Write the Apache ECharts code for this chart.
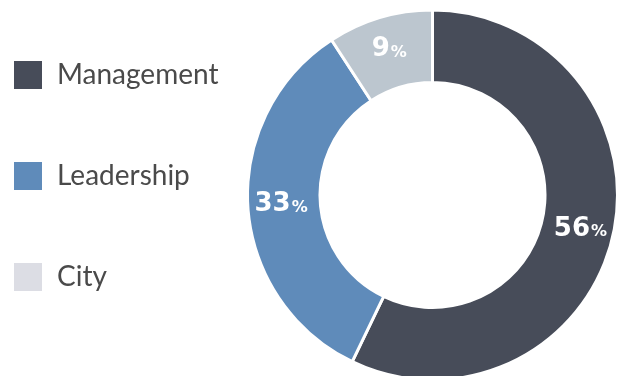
<!DOCTYPE html>
<html>
<head>
<meta charset="utf-8">
<script src="https://cdn.jsdelivr.net/npm/echarts@6/dist/echarts.min.js"></script>
<style>
  html, body { margin: 0; padding: 0; background: #ffffff; }
  #chart { width: 621px; height: 376px; }
</style>
</head>
<body>
<div id="chart"></div>
<script>
// Share of respondents by group
const categories = ['Management', 'Leadership', 'City'];
const shares = [56, 33, 9];
const sliceColors = ['#474c59', '#5f8bba', '#bcc6cf'];
const legendColors = ['#474c59', '#5f8bba', '#dcdde4'];

const chart = echarts.init(document.getElementById('chart'), null, { renderer: 'canvas' });

chart.setOption({
  animation: false,
  backgroundColor: '#ffffff',
  legend: {
    orient: 'vertical',
    left: 14,
    top: 61,
    padding: 0,
    itemWidth: 28,
    itemHeight: 28,
    itemGap: 73,
    icon: 'rect',
    selectedMode: false,
    itemStyle: { borderWidth: 0 },
    data: categories.map((name, i) => ({
      name: name,
      itemStyle: { color: legendColors[i], borderWidth: 0 }
    })),
    textStyle: {
      fontFamily: 'Lato',
      fontSize: 28,
      color: '#4a4a4a',
      lineHeight: 28,
      padding: [0, 0, 0, 10]
    }
  },
  series: [{
    type: 'pie',
    center: [432.5, 195],
    radius: [112.5, 185],
    startAngle: 90,
    clockwise: true,
    avoidLabelOverlap: false,
    itemStyle: { borderColor: '#ffffff', borderWidth: 3 },
    label: {
      show: true,
      position: 'inside',
      formatter: p => '{n|' + p.value + '}{p|%}',
      rich: {
        n: { fontFamily: 'DejaVu Sans', fontWeight: 'bold', fontSize: 26, color: '#ffffff' },
        p: { fontFamily: 'DejaVu Sans', fontWeight: 'bold', fontSize: 16, color: '#ffffff', padding: [6, 0, 0, 1] }
      }
    },
    labelLine: { show: false },
    emphasis: { disabled: true },
    data: categories.map((name, i) => ({
      name: name,
      value: shares[i],
      itemStyle: { color: sliceColors[i] }
    }))
  }]
});
</script>
</body>
</html>
